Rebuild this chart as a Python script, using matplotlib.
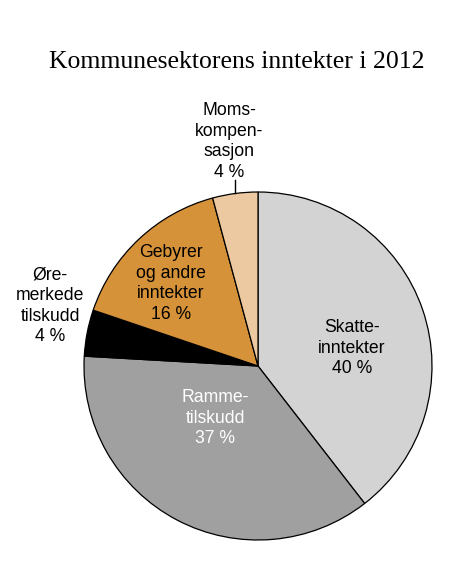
import matplotlib
matplotlib.use("Agg")
import matplotlib.pyplot as plt

categories = ["Skatte-\ninntekter", "Ramme-\ntilskudd", "Øre-\nmerkede\ntilskudd",
              "Gebyrer\nog andre\ninntekter", "Moms-\nkompen-\nsasjon"]
values = [39.5, 36.4, 4.3, 15.6, 4.2]
pct_labels = ["40 %", "37 %", "4 %", "16 %", "4 %"]
colors = ["#d3d3d3", "#a0a0a0", "#000000", "#d69238", "#ecc9a0"]
text_colors = ["black", "white", "black", "black", "black"]
title = "Kommunesektorens inntekter i 2012"

W, H = 450, 566
fig = plt.figure(figsize=(W / 100, H / 100), dpi=100)
cx, cy, r = 258, 366, 174
ax = fig.add_axes([(cx - r) / W, (H - cy - r) / H, 2 * r / W, 2 * r / H])
ax.pie(values, colors=colors, startangle=90, counterclock=False, radius=1,
       wedgeprops=dict(edgecolor="black", linewidth=0.9))
ax.set_xlim(-1, 1)
ax.set_ylim(-1, 1)
ax.set_aspect("equal")
ax.axis("off")

label_pos = [(0.54, 0.103), (-0.247, -0.299), (-1.195, 0.345), (-0.50, 0.474), (-0.167, 1.29)]
font = ["Liberation Sans", "DejaVu Sans"]
for cat, pct, (x, y), tc in zip(categories, pct_labels, label_pos, text_colors):
    ax.text(x, y, cat + "\n" + pct, ha="center", va="center", multialignment="center",
            fontsize=12.7, family=font, color=tc, linespacing=1.27, clip_on=False)

ax.plot([-0.132, -0.132], [1.069, 0.994], color="black", linewidth=1, clip_on=False)

fig.text(236.5 / W, (H - 62) / H, title, ha="center", va="center",
         fontsize=18.5, family=["Liberation Serif", "DejaVu Serif"])

fig.savefig("out.png", dpi=100)
